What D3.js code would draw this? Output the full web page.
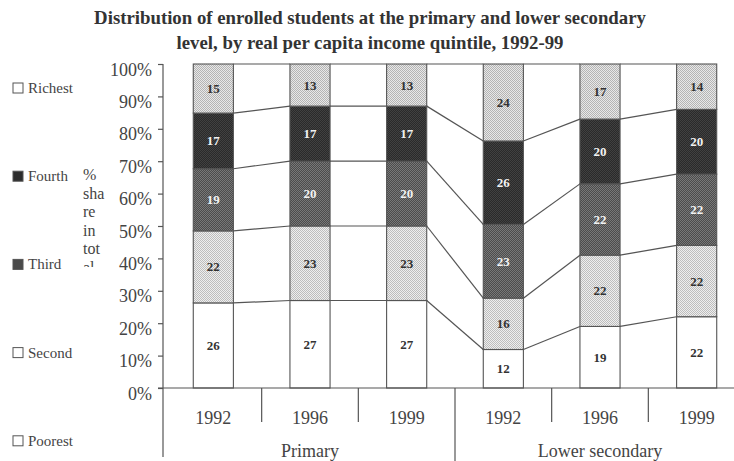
<!DOCTYPE html>
<html>
<head>
<meta charset="utf-8">
<script src="https://cdn.jsdelivr.net/npm/d3@7/dist/d3.min.js"></script>
<style>
  html, body { margin: 0; padding: 0; background: #fff; }
  svg { display: block; font-family: "Liberation Serif", "DejaVu Serif", serif; }
</style>
</head>
<body>
<svg id="chart" width="734" height="461"></svg>
<script>
// Enrolment shares by real per capita income quintile
const groups = ["Primary", "Lower secondary"];
const years = ["1992", "1996", "1999"];
const quintiles = ["Poorest", "Second", "Third", "Fourth", "Richest"];
const poorest = [26, 27, 27, 12, 19, 22];
const second  = [22, 23, 23, 16, 22, 22];
const third   = [19, 20, 20, 23, 22, 22];
const fourth  = [17, 17, 17, 26, 20, 20];
const richest = [15, 13, 13, 24, 17, 14];
const yTicks = [0, 10, 20, 30, 40, 50, 60, 70, 80, 90, 100];
const titleLines = [
  "Distribution of enrolled students at the primary and lower secondary",
  "level, by real per capita income quintile, 1992-99"
];
const yLabelLines = ["%", "sha", "re", "in", "tot", "al"];

const categories = [];
groups.forEach(g => years.forEach(yr => categories.push({ key: g + " " + yr, group: g, year: yr })));
const series = [poorest, second, third, fourth, richest];
const rows = categories.map((c, i) => {
  const r = { key: c.key };
  quintiles.forEach((q, k) => { r[q] = series[k][i]; });
  return r;
});

const svg = d3.select("#chart");
const defs = svg.append("defs");

// Stippled fills
function stipple(id, base, dot, step) {
  const p = defs.append("pattern").attr("id", id).attr("patternUnits", "userSpaceOnUse")
    .attr("width", step).attr("height", step);
  p.append("rect").attr("width", step).attr("height", step).attr("fill", base);
  p.append("rect").attr("x", 0).attr("y", 0).attr("width", 1).attr("height", 1).attr("fill", dot);
  p.append("rect").attr("x", step / 2).attr("y", step / 2).attr("width", 1).attr("height", 1).attr("fill", dot);
  return "url(#" + id + ")";
}
const fills = {
  Poorest: "#ffffff",
  Second: stipple("pSecond", "#eeeeee", "#bdbdbd", 2),
  Third: stipple("pThird", "#4c4c4c", "#787878", 2),
  Fourth: stipple("pFourth", "#2a2a2a", "#414141", 2),
  Richest: stipple("pRichest", "#e8e8e8", "#b4b4b4", 2)
};
const legendFills = { Poorest: "#fff", Second: "#fff", Third: "#4a4a4a", Fourth: "#2c2c2c", Richest: "#fff" };
const labelColor = { Poorest: "#333", Second: "#333", Third: "#f2f2f2", Fourth: "#f2f2f2", Richest: "#333" };

const axisX = 163, y0 = 388, y100 = 64;
const x = d3.scaleBand().domain(categories.map(c => c.key)).range([165, 745])
  .paddingInner(0.585).paddingOuter(0.2925);
const y = d3.scaleLinear().domain([0, 1]).range([y0, y100]);
const bw = x.bandwidth();

const stacked = d3.stack().keys(quintiles).offset(d3.stackOffsetExpand)(rows);

const lineColor = "#555";
const textColor = "#444";

// Title
svg.append("g").selectAll("text").data(titleLines).join("text")
  .attr("x", 370).attr("y", (d, i) => 24 + i * 25)
  .attr("text-anchor", "middle").attr("font-size", 18.8).attr("font-weight", "bold")
  .attr("fill", "#333").text(d => d);

// Series lines joining the stack boundaries of neighbouring bars
const lines = svg.append("g").attr("stroke", lineColor).attr("stroke-width", 1.2);
stacked.forEach(layer => {
  for (let i = 0; i < rows.length - 1; i++) {
    lines.append("line")
      .attr("x1", x(rows[i].key) + bw).attr("y1", y(layer[i][1]))
      .attr("x2", x(rows[i + 1].key)).attr("y2", y(layer[i + 1][1]));
  }
});

// Bars
const barG = svg.append("g");
stacked.forEach(layer => {
  barG.append("g").selectAll("rect").data(layer).join("rect")
    .attr("x", d => x(d.data.key)).attr("width", bw)
    .attr("y", d => y(d[1])).attr("height", d => y(d[0]) - y(d[1]))
    .attr("fill", fills[layer.key]).attr("stroke", lineColor).attr("stroke-width", 1.1);
});

// Value labels
stacked.forEach(layer => {
  barG.append("g").selectAll("text").data(layer).join("text")
    .attr("x", d => x(d.data.key) + bw / 2).attr("y", d => (y(d[0]) + y(d[1])) / 2 + 4.5)
    .attr("text-anchor", "middle").attr("font-size", 13).attr("font-weight", "bold")
    .attr("fill", labelColor[layer.key]).text(d => d.data[layer.key]);
});

// Y axis
const yAxis = d3.axisLeft(d3.scaleLinear().domain([0, 100]).range([y0, y100]))
  .tickValues(yTicks).tickFormat(d => d + "%").tickSize(5).tickPadding(6);
const ya = svg.append("g").attr("transform", `translate(${axisX},0)`).call(yAxis)
  .attr("font-family", null);
ya.select(".domain").remove();
ya.selectAll(".tick line").attr("stroke", lineColor).attr("stroke-width", 1.2);
ya.selectAll(".tick text").attr("font-size", 18).attr("fill", textColor).attr("dy", "0.62em");
svg.append("line").attr("x1", axisX).attr("x2", axisX).attr("y1", y100).attr("y2", 457)
  .attr("stroke", lineColor).attr("stroke-width", 1.2);

// Category axis
svg.append("line").attr("x1", axisX - 5).attr("x2", 734).attr("y1", y0).attr("y2", y0)
  .attr("stroke", lineColor).attr("stroke-width", 1.2);
const step = x.step();
categories.forEach((c, i) => {
  if (i === 0) return;
  const bx = x(c.key) - (step - bw) / 2;
  const groupEdge = i % years.length === 0;
  svg.append("line").attr("x1", bx).attr("x2", bx).attr("y1", y0).attr("y2", groupEdge ? 461 : 422)
    .attr("stroke", lineColor).attr("stroke-width", 1.2);
});
svg.append("g").selectAll("text").data(categories).join("text")
  .attr("x", d => x(d.key) + bw / 2).attr("y", 424)
  .attr("text-anchor", "middle").attr("font-size", 18).attr("fill", textColor).text(d => d.year);
svg.append("g").selectAll("text").data(groups).join("text")
  .attr("x", g => {
    const ks = categories.filter(c => c.group === g).map(c => x(c.key));
    return (d3.min(ks) + d3.max(ks) + bw) / 2;
  })
  .attr("y", 457).attr("text-anchor", "middle").attr("font-size", 18).attr("fill", textColor).text(d => d);

// Y axis title, wrapped into a narrow box and cut off at its bottom
defs.append("clipPath").attr("id", "ylabClip").append("rect")
  .attr("x", 70).attr("y", 150).attr("width", 40).attr("height", 117);
svg.append("g").attr("clip-path", "url(#ylabClip)").selectAll("text").data(yLabelLines).join("text")
  .attr("x", 83).attr("y", (d, i) => 180 + i * 18.5)
  .attr("font-size", 16).attr("fill", textColor).text(d => d);

// Legend
const legendItems = ["Richest", "Fourth", "Third", "Second", "Poorest"];
const lg = svg.append("g").selectAll("g").data(legendItems).join("g")
  .attr("transform", (d, i) => `translate(13,${88 + i * 88.2})`);
lg.append("rect").attr("x", 0).attr("y", -5).attr("width", 10).attr("height", 10)
  .attr("fill", d => legendFills[d]).attr("stroke", "#555").attr("stroke-width", 1);
lg.append("text").attr("x", 15).attr("y", 5).attr("font-size", 15).attr("fill", textColor).text(d => d);
</script>
</body>
</html>
